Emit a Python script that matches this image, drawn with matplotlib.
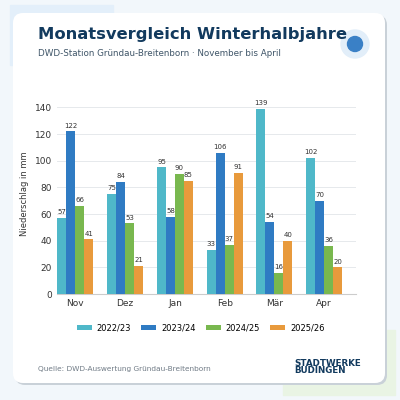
import matplotlib
matplotlib.use("Agg")
import matplotlib.pyplot as plt
from matplotlib.patches import FancyBboxPatch, Circle, Rectangle
import numpy as np

months = ["Nov", "Dez", "Jan", "Feb", "Mär", "Apr"]
seasons = ["2022/23", "2023/24", "2024/25", "2025/26"]
v2223 = [57, 75, 95, 33, 139, 102]
v2324 = [122, 84, 58, 106, 54, 70]
v2425 = [66, 53, 90, 37, 16, 36]
v2526 = [41, 21, 85, 91, 40, 20]
series = [v2223, v2324, v2425, v2526]
colors = ["#4fb8c9", "#2f7bc3", "#79b84f", "#e89a3c"]

fig = plt.figure(figsize=(4, 4), dpi=100)
fig.patch.set_facecolor("#f2f7fb")
bg = fig.add_axes([0, 0, 1, 1]); bg.set_xlim(0, 400); bg.set_ylim(400, 0); bg.axis("off")
bg.add_patch(Rectangle((10, 5), 103, 60, color="#e3effa", zorder=0))
bg.add_patch(Rectangle((283, 330), 112, 65, color="#e9f4e4", zorder=0))
bg.add_patch(FancyBboxPatch((15, 15), 372, 370, boxstyle="round,pad=0,rounding_size=10",
                            fc="#c9d1d8", ec="none", zorder=1))
bg.add_patch(FancyBboxPatch((13, 13), 372, 370, boxstyle="round,pad=0,rounding_size=10",
                            fc="white", ec="none", zorder=2))
bg.add_patch(Circle((355, 44), 14, color="#e2eef9", zorder=3))
bg.add_patch(Circle((355, 44), 7.5, color="#3a80c6", zorder=4))
bg.text(38, 34, "Monatsvergleich Winterhalbjahre", fontsize=11.8, fontweight="bold",
        color="#123a5e", va="center", zorder=5)
bg.text(38, 53, "DWD-Station Gründau-Breitenborn · November bis April", fontsize=6.3,
        color="#3f5568", va="center", zorder=5)
bg.text(38, 369, "Quelle: DWD-Auswertung Gründau-Breitenborn", fontsize=5.3,
        color="#707b86", va="center", zorder=5)
bg.text(294, 367, "STADTWERKE\nBUDINGEN", fontsize=6.3, fontweight="bold", color="#123a5e",
        va="center", linespacing=0.8, zorder=5)

ax = fig.add_axes([0.1425, 0.265, 0.7475, 0.50])
ax.set_facecolor("white")
x = np.arange(len(months))
w = 0.18
for i, (s, c) in enumerate(zip(series, colors)):
    pos = x + (i - 1.5) * w
    ax.bar(pos, s, w, color=c, label=seasons[i], zorder=3)
    for p, v in zip(pos, s):
        ax.text(p, v + 2, str(v), ha="center", va="bottom", fontsize=5, color="#333333")
ax.set_ylim(0, 150)
ax.set_xlim(-0.37, 5.64)
ax.set_yticks(range(0, 141, 20))
ax.set_xticks(x, months)
ax.tick_params(labelsize=6.5, colors="#333333", length=0)
ax.set_ylabel("Niederschlag in mm", fontsize=6, color="#333333")
ax.grid(axis="y", color="#e6e9ec", lw=0.7, zorder=0)
for sp in ["top", "right", "left"]:
    ax.spines[sp].set_visible(False)
ax.spines["bottom"].set_color("#cccccc")
ax.legend(loc="upper center", bbox_to_anchor=(0.48, -0.11), ncol=4, frameon=False,
          fontsize=6, handlelength=1.8, handleheight=0.6, handletextpad=0.6, columnspacing=1.2)
fig.savefig("out.png", dpi=100, facecolor=fig.get_facecolor())
